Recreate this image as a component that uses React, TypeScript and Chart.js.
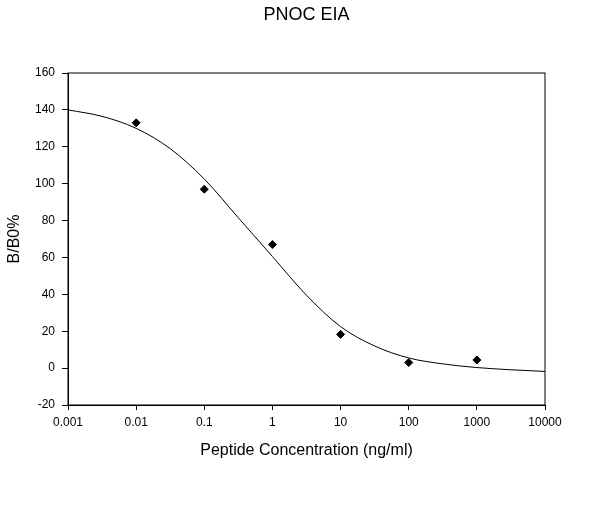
import React, { useEffect, useRef } from "react";
import { Chart, registerables } from "chart.js";

Chart.register(...registerables);

const TITLE = "PNOC EIA";
const X_TITLE = "Peptide Concentration (ng/ml)";
const Y_TITLE = "B/B0%";

const X_TICKS = [0.001, 0.01, 0.1, 1, 10, 100, 1000, 10000];
const X_TICK_LABELS = ["0.001", "0.01", "0.1", "1", "10", "100", "1000", "10000"];

const POINT_X = [0.01, 0.1, 1, 10, 100, 1000];
const POINT_Y = [133, 97, 67, 18.3, 3, 4.4];

const CURVE_X = [0.001, 0.00316, 0.01, 0.0316, 0.1, 0.316, 1, 3.16, 10, 31.6, 100, 316, 1000, 3162, 10000];
const CURVE_Y = [140, 136.5, 130, 119, 102.5, 81.5, 60.5, 39.5, 22.5, 12, 5.5, 2.3, 0.3, -0.9, -1.8];

const FONT = "'Liberation Sans', Arial, sans-serif";

const framePlugin = {
  id: "frame",
  afterDraw(chart: any) {
    const { ctx, chartArea } = chart;
    ctx.save();
    ctx.strokeStyle = "#000";
    ctx.lineWidth = 1;
    ctx.strokeRect(chartArea.left, chartArea.top, chartArea.right - chartArea.left, chartArea.bottom - chartArea.top);
    ctx.restore();
  },
};

export default function App() {
  const ref = useRef<HTMLCanvasElement | null>(null);

  useEffect(() => {
    if (!ref.current) return;
    const chart = new Chart(ref.current, {
      type: "scatter",
      data: {
        datasets: [
          {
            label: "fit",
            data: CURVE_X.map((x, i) => ({ x, y: CURVE_Y[i] })),
            showLine: true,
            borderColor: "#000",
            borderWidth: 1,
            pointRadius: 0,
            cubicInterpolationMode: "monotone",
            fill: false,
          },
          {
            label: "data",
            data: POINT_X.map((x, i) => ({ x, y: POINT_Y[i] })),
            pointStyle: "rectRot",
            pointRadius: 4,
            pointBackgroundColor: "#000",
            pointBorderColor: "#000",
            pointBorderWidth: 1,
            showLine: false,
          },
        ],
      },
      options: {
        animation: false,
        responsive: true,
        maintainAspectRatio: false,
        layout: { padding: { left: 0, right: 45, top: 0, bottom: 0 } },
        plugins: {
          legend: { display: false },
          tooltip: { enabled: false },
          title: {
            display: true,
            text: TITLE,
            fullSize: false,
            color: "#000",
            font: { family: FONT, size: 18, weight: "normal", lineHeight: 1.2 },
            padding: { top: 4, bottom: 47.4 },
          },
        },
        scales: {
          x: {
            type: "logarithmic",
            min: 0.001,
            max: 10000,
            afterBuildTicks: (scale: any) => {
              scale.ticks = X_TICKS.map((v) => ({ value: v }));
            },
            afterFit: (scale: any) => {
              scale.height = 112;
            },
            ticks: {
              color: "#000",
              font: { family: FONT, size: 12 },
              padding: 5,
              maxRotation: 0,
              autoSkip: false,
              callback: (v: any) => {
                const i = X_TICKS.findIndex((t) => Math.abs(Math.log10(t) - Math.log10(Number(v))) < 1e-6);
                return i >= 0 ? X_TICK_LABELS[i] : "";
              },
            },
            grid: { display: true, drawOnChartArea: false, drawTicks: true, tickLength: 5, color: "#000", lineWidth: 1 },
            border: { display: true, color: "#000", width: 1 },
            title: {
              display: true,
              text: X_TITLE,
              color: "#000",
              font: { family: FONT, size: 16, lineHeight: 1.2 },
              padding: { top: 0, bottom: 56.4 },
            },
          },
          y: {
            type: "linear",
            min: -20,
            max: 160,
            afterFit: (scale: any) => {
              scale.width = 68;
            },
            ticks: {
              stepSize: 20,
              color: "#000",
              font: { family: FONT, size: 12 },
              padding: 7,
            },
            grid: { display: true, drawOnChartArea: false, drawTicks: true, tickLength: 6, color: "#000", lineWidth: 1 },
            border: { display: true, color: "#000", width: 1 },
            title: {
              display: true,
              text: Y_TITLE,
              color: "#000",
              font: { family: FONT, size: 16, lineHeight: 1.2 },
              padding: { top: 5, bottom: 0 },
            },
          },
        },
      },
      plugins: [framePlugin],
    } as any);
    return () => chart.destroy();
  }, []);

  return (
    <div style={{ position: "absolute", left: 0, top: 0, width: 590, height: 517, background: "#fff" }}>
      <canvas ref={ref} />
    </div>
  );
}
